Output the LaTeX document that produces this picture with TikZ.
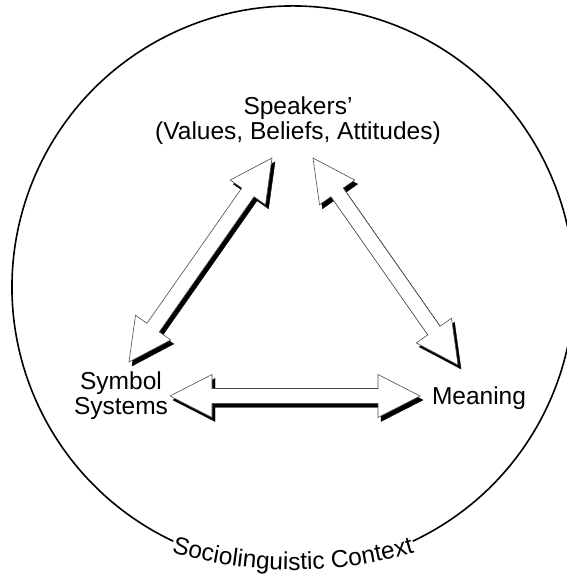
\documentclass[tikz,border=0pt]{standalone}
\usepackage{fontspec}
\setmainfont{Liberation Sans}
\usetikzlibrary{calc,decorations.text}

\newcommand\figfont{\fontsize{24.5}{25}\selectfont}
\newcommand\headlen{42pt}
\newcommand\headwd{21.5pt}
\newcommand\shaftwd{7.5pt}

% hollow two-headed block arrow between two named points
\newcommand\blockarrow[3][]{%
  \draw[#1] (#2)
    -- ($(#2)!\headlen!(#3)!\headwd!90:(#3)$)
    -- ($(#2)!\headlen!(#3)!\shaftwd!90:(#3)$)
    -- ($(#3)!\headlen!(#2)!\shaftwd!-90:(#2)$)
    -- ($(#3)!\headlen!(#2)!\headwd!-90:(#2)$)
    -- (#3)
    -- ($(#3)!\headlen!(#2)!\headwd!90:(#2)$)
    -- ($(#3)!\headlen!(#2)!\shaftwd!90:(#2)$)
    -- ($(#2)!\headlen!(#3)!\shaftwd!-90:(#3)$)
    -- ($(#2)!\headlen!(#3)!\headwd!-90:(#3)$)
    -- cycle;}

\begin{document}
\begin{tikzpicture}[
  x=1pt, y=1pt,
  lbl/.style={font=\figfont, inner sep=0pt, align=center},
  ring/.style={line width=1.6pt},
  shade/.style={fill=black, draw=black, line width=0.4pt,
                transform canvas={shift={(3pt,-4pt)}}},
  hollow/.style={fill=white, draw=black!70, line width=0.6pt}
]
  \useasboundingbox (0,0) rectangle (566,580);

  % base sits on the last line
  \node[lbl, anchor=base] (spk) at (298,440) {Speakers'\\(Values, Beliefs, Attitudes)};
  \node[lbl, anchor=base] (sym) at (121,165) {Symbol\\Systems};
  \node[lbl, anchor=base] (mng) at (479,175) {Meaning};

  % arrow ends
  \coordinate (spk-l) at (272,422);
  \coordinate (sym-t) at (129,218);
  \coordinate (spk-r) at (313,422);
  \coordinate (mng-t) at (458,215);
  \coordinate (sym-r) at (170,184);
  \coordinate (mng-l) at (420,184);

  \blockarrow[shade]{spk-l}{sym-t}
  \blockarrow[shade]{spk-r}{mng-t}
  \blockarrow[shade]{sym-r}{mng-l}
  \blockarrow[hollow]{spk-l}{sym-t}
  \blockarrow[hollow]{spk-r}{mng-t}
  \blockarrow[hollow]{sym-r}{mng-l}

  % context circle, open at the bottom for its label
  \coordinate (ctx) at (293,293);
  \draw[ring] ($(ctx)+(295.2:281)$) arc[start angle=295.2, end angle=604.8, radius=281];

  \coordinate (ctx-txt) at (293,435);
  \path[decorate, decoration={text along path, text align=center,
        text={|\figfont|Sociolinguistic Context}}]
    ($(ctx-txt)+(250:425)$) arc[start angle=250, end angle=290, radius=425];
\end{tikzpicture}
\end{document}
